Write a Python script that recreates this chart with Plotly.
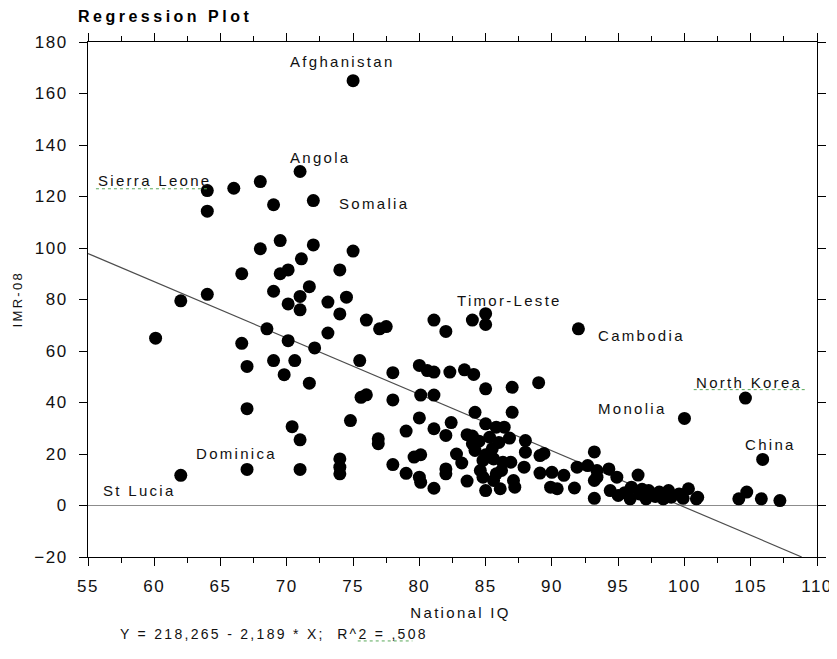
import plotly.graph_objects as go

# ---- data ----
national_iq = [
    60.1, 62.0, 62.0, 64.0, 64.0, 64.0, 66.0, 66.6, 66.6, 67.0, 67.0, 67.0,
    68.0, 68.0, 68.5, 69.0, 69.0, 69.0, 69.5, 69.5, 69.8, 70.1, 70.1, 70.1,
    70.4, 70.6, 71.0, 71.0, 71.0, 71.0, 71.0, 71.1, 71.7, 71.7, 72.0, 72.0,
    72.1, 73.1, 73.1, 74.0, 74.0, 74.0, 74.0, 74.0, 74.5, 74.8, 75.0, 75.0,
    75.5, 75.6, 76.0, 76.0, 76.9, 76.9, 77.0, 77.5, 78.0, 78.0, 78.0, 79.0,
    79.0, 79.6, 80.1, 80.0, 80.6, 81.1, 80.1, 81.1, 80.0, 81.1, 80.0, 80.1,
    81.1, 81.1, 82.0, 82.3, 82.4, 82.0, 82.0, 82.0, 82.8, 83.2, 83.4, 84.1,
    83.6, 84.0, 85.0, 85.0, 85.0, 84.2, 85.0, 85.8, 86.4, 84.0, 84.0, 84.2,
    84.8, 85.6, 86.3, 86.9, 84.6, 84.8, 85.0, 85.6, 85.8, 86.1, 87.1, 87.2,
    86.8, 87.0, 87.0, 88.0, 88.0, 87.9, 89.0, 89.1, 89.4, 89.1, 90.0, 90.9,
    89.9, 90.4, 91.7, 91.9, 92.7, 92.0, 93.2, 93.4, 93.2, 93.4, 93.2, 94.3,
    94.9, 94.4, 95.0, 95.9, 96.0, 96.5, 96.6, 97.1, 97.3, 98.1, 98.4, 98.8,
    99.6, 100.0, 100.3, 100.9, 101.0, 104.1, 104.7, 104.6, 105.8, 105.9, 107.2,
    84.5, 85.3, 85.5, 86.0, 85.0, 83.6, 95.5, 97.8, 99.0, 99.9, 96.8, 86.2,
]
imr_08 = [
    65.0, 79.5, 11.7, 122.3, 114.3, 82.0, 123.2, 90.0, 63.0, 54.0, 37.6, 14.0,
    125.8, 99.7, 68.6, 116.8, 83.2, 56.3, 102.9, 90.0, 50.8, 91.5, 78.3, 64.0,
    30.6, 56.3, 129.7, 81.2, 76.0, 25.5, 14.0, 95.8, 85.0, 47.5, 118.4, 101.2,
    61.2, 79.0, 67.0, 91.5, 74.4, 18.1, 14.9, 12.3, 80.9, 33.0, 165.0, 98.8,
    56.3, 42.0, 43.0, 72.0, 25.9, 24.0, 68.6, 69.5, 51.6, 41.0, 15.9, 28.9,
    12.5, 18.8, 19.7, 54.4, 52.4, 51.8, 42.9, 42.9, 34.0, 29.8, 11.0, 9.0,
    6.7, 72.0, 67.6, 51.8, 32.2, 27.2, 14.2, 12.3, 20.0, 16.5, 52.7, 50.9,
    9.5, 72.0, 74.5, 70.3, 45.3, 36.2, 31.7, 30.4, 30.4, 27.0, 24.0, 21.4,
    17.5, 18.1, 16.8, 16.8, 13.6, 11.0, 5.8, 9.7, 12.3, 6.5, 9.7, 7.1,
    26.2, 45.9, 36.2, 25.2, 20.7, 14.9, 47.7, 19.4, 20.2, 12.6, 12.9, 11.7,
    7.1, 6.5, 6.8, 14.9, 15.5, 68.6, 20.8, 13.6, 9.7, 11.0, 2.8, 14.2,
    11.0, 5.8, 3.9, 2.6, 7.1, 11.8, 4.5, 2.6, 5.8, 5.2, 2.6, 5.8,
    4.5, 33.8, 6.5, 2.6, 3.2, 2.6, 5.2, 41.7, 2.6, 17.9, 1.9,
    25.0, 26.5, 22.0, 24.5, 19.7, 27.5, 5.0, 3.5, 3.2, 2.8, 6.3, 13.6,
]

label_names = ["Afghanistan", "Angola", "Sierra Leone", "Somalia", "Timor-Leste",
               "Cambodia", "North Korea", "Monolia", "China", "Dominica", "St Lucia"]
label_x = [70.1, 70.1, 55.6, 73.8, 82.7, 93.36, 100.7, 93.36, 104.43, 62.97, 56.0]
label_y = [172.5, 135.3, 126.2, 117.3, 79.6, 66.0, 47.9, 37.5, 23.8, 20.1, 5.8]

intercept = 218.265
slope = -2.189
r_squared_text = ",508"
equation_text = "Y = 218,265 - 2,189 * X;  R^2 = " + r_squared_text

x_ticks = [55, 60, 65, 70, 75, 80, 85, 90, 95, 100, 105, 110]
y_ticks = [-20, 0, 20, 40, 60, 80, 100, 120, 140, 160, 180]
x_range = [55, 110]
y_range = [-20, 180]

# ---- figure ----
FONT = "Liberation Sans, Arial, sans-serif"
# the page body has an 8px margin, so the figure is 8px smaller than the window
W, H = 829, 651

fig = go.Figure()

# regression line, clipped to the plot box
x0 = x_range[0]
x1 = min(x_range[1], (y_range[0] - intercept) / slope)
fig.add_trace(go.Scatter(
    x=[x0, x1], y=[intercept + slope * x0, intercept + slope * x1],
    mode="lines", line=dict(color="#4d4d4d", width=1.2),
    hoverinfo="skip", showlegend=False,
))

fig.add_trace(go.Scatter(
    x=national_iq, y=imr_08, mode="markers",
    marker=dict(color="black", size=13, line=dict(width=0)),
    showlegend=False,
))

annotations = []
for name, lx, ly in zip(label_names, label_x, label_y):
    annotations.append(dict(
        x=lx, y=ly, xref="x", yref="y", text=name, showarrow=False,
        xanchor="left", yanchor="middle", align="left",
        font=dict(family=FONT, size=15, color="#111111"),
    ))

annotations += [
    dict(text="National IQ", xref="paper", yref="paper", x=0.511, y=-0.1074,
         xanchor="center", yanchor="middle", showarrow=False,
         font=dict(family=FONT, size=15, color="#111111")),
    dict(text="IMR-08", xref="paper", yref="paper", x=0, xshift=-71, y=0.5,
         xanchor="center", yanchor="middle", textangle=-90, showarrow=False,
         font=dict(family=FONT, size=13, color="#111111")),
    dict(text=equation_text, xref="paper", yref="paper", x=0.0416, y=-0.150,
         xanchor="left", yanchor="middle", align="left", showarrow=False,
         font=dict(family=FONT, size=14, color="#111111")),
]

axis_common = dict(
    showgrid=False, showline=True, linecolor="black", linewidth=1,
    mirror="allticks", ticks="outside", ticklen=8, tickcolor="black",
    tickwidth=1, automargin=False,
    tickfont=dict(family=FONT, size=17, color="#111111"),
)

fig.update_layout(
    width=W, height=H,
    paper_bgcolor="white", plot_bgcolor="white",
    margin=dict(l=80, r=20, t=34, b=102),
    title=dict(text="<b>Regression Plot</b>", xref="container", yref="container",
               x=70 / W, y=1 - 8.5 / H, xanchor="left", yanchor="middle", automargin=False,
               font=dict(family=FONT, size=16, color="black")),
    xaxis=dict(range=x_range, tickvals=x_ticks, zeroline=False,
               minor=dict(ticks="outside", ticklen=5, dtick=2.5, tick0=55,
                          tickcolor="black", showgrid=False),
               ticklabelstandoff=6, **axis_common),
    yaxis=dict(range=y_range, tickvals=y_ticks, zeroline=True,
               zerolinecolor="#8c8c8c", zerolinewidth=1,
               ticklabelstandoff=8, **axis_common),
    annotations=annotations,
    shapes=[
        dict(type="line", xref="x", yref="y", x0=55.6, x1=64.0, y0=123.0, y1=123.0,
             line=dict(color="#5aa85a", width=1, dash="dot")),
        dict(type="line", xref="x", yref="y", x0=100.7, x1=109.2, y0=45.0, y1=45.0,
             line=dict(color="#5aa85a", width=1, dash="dot")),
        dict(type="line", xref="paper", yref="paper", x0=0.37, x1=0.445, y0=-0.163, y1=-0.163,
             line=dict(color="#5aa85a", width=1, dash="dot")),
    ],
)

post = """
var gd = document.getElementById('{plot_id}');
gd.querySelectorAll('.annotation-text').forEach(function(t){t.style.letterSpacing='2.3px';});
gd.querySelectorAll('.gtitle').forEach(function(t){t.style.letterSpacing='3.5px';});
gd.querySelectorAll('.xtick text, .ytick text').forEach(function(t){t.style.letterSpacing='1.5px';});
"""

fig.write_html("out.html", post_script=post)
